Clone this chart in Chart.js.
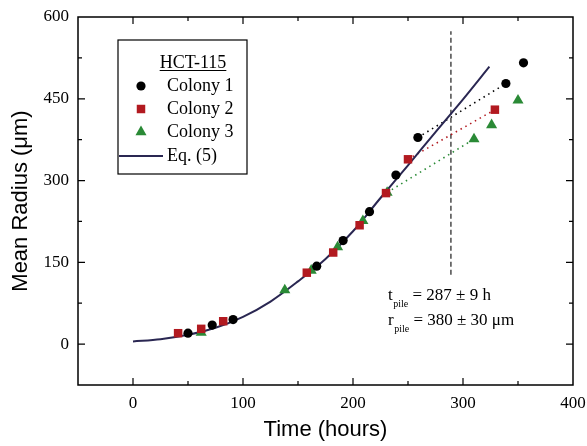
<!DOCTYPE html>
<html><head><meta charset="utf-8">
<script src="https://cdn.jsdelivr.net/npm/chart.js@4/dist/chart.umd.min.js"></script>
<style>html,body{margin:0;padding:0;background:#fff}</style>
</head><body>
<canvas id="c" width="587" height="446" style="display:block;width:587px;height:446px"></canvas>
<script>
// ---- data ----
const colony1X = [50, 72, 91, 167, 191, 215, 239, 259, 339, 355];
const colony1Y = [20, 35, 45, 143, 190, 243, 310, 379, 478, 516];
const colony2X = [41, 62, 82, 158, 182, 206, 230, 250, 329];
const colony2Y = [20, 28, 42, 131, 168, 218, 277, 339, 430];
const colony3X = [62, 138, 162, 186, 209, 231, 310, 326, 350];
const colony3Y = [21, 99, 135, 178, 226, 278, 376, 402, 447];
const eqX = [0, 25, 50, 75, 100, 125, 150, 175, 200, 225, 250, 275, 300, 324];
const eqY = [5, 9, 17, 30, 50, 78, 115, 156, 207, 268, 328, 389, 449, 509];
const pileTime = 289;           // vertical dashed line position (hours)
const pileLineY = [127, 574];   // dashed line extent
const xTickLabels = [0, 100, 200, 300, 400];
const yTickLabels = [0, 150, 300, 450, 600];
const legendTitle = "HCT-115";
const seriesNames = ["Colony 1", "Colony 2", "Colony 3", "Eq. (5)"];
const annotLines = [["t", "pile", " = 287 ± 9 h"], ["r", "pile", " = 380 ± 30 μm"]];

const pts = (xs, ys) => xs.map((x, i) => ({x, y: ys[i]}));
const seg = (xs, ys, a, b) => [{x: xs[a], y: ys[a]}, {x: xs[b], y: ys[b]}];

const BLACK = '#000000', RED = '#b21a20', GREEN = '#2a8a36', NAVY = '#2a2752';
const SERIF = "'Liberation Serif','Times New Roman',serif";
const SANS = "'Liberation Sans',Arial,sans-serif";

const datasets = [
  {label: seriesNames[0], data: pts(colony1X, colony1Y), showLine: false, pointStyle: 'circle', pointRadius: 4.6, backgroundColor: BLACK, borderColor: BLACK, borderWidth: 0},
  {label: seriesNames[1], data: pts(colony2X, colony2Y), showLine: false, pointStyle: 'rect', pointRadius: 6, backgroundColor: RED, borderColor: RED, borderWidth: 0},
  {label: seriesNames[2], data: pts(colony3X, colony3Y), showLine: false, pointStyle: 'triangle', pointRadius: 6.4, backgroundColor: GREEN, borderColor: GREEN, borderWidth: 0},
  {label: seriesNames[3], data: pts(eqX, eqY), showLine: true, pointRadius: 0, borderColor: NAVY, borderWidth: 2, tension: 0.4, cubicInterpolationMode: 'monotone', fill: false},
  {label: '_d1', data: seg(colony1X, colony1Y, 7, 8), showLine: true, pointRadius: 0, borderColor: BLACK, borderWidth: 1.6, borderDash: [1.5, 4]},
  {label: '_d2', data: seg(colony2X, colony2Y, 7, 8), showLine: true, pointRadius: 0, borderColor: RED, borderWidth: 1.6, borderDash: [1.5, 4]},
  {label: '_d3', data: seg(colony3X, colony3Y, 5, 6), showLine: true, pointRadius: 0, borderColor: GREEN, borderWidth: 1.6, borderDash: [1.5, 4]},
  {label: '_pile', data: [{x: pileTime, y: pileLineY[0]}, {x: pileTime, y: pileLineY[1]}], showLine: true, pointRadius: 0, borderColor: '#555555', borderWidth: 1.6, borderDash: [5, 3]}
];

const framePlugin = {
  id: 'frame',
  afterDraw(chart) {
    const ctx = chart.ctx, a = chart.chartArea;
    const xs = chart.scales.x, ys = chart.scales.y;
    ctx.save();
    ctx.strokeStyle = '#000'; ctx.lineWidth = 1.5;
    ctx.strokeRect(a.left, a.top, a.right - a.left, a.bottom - a.top);
    ctx.lineWidth = 1.2;
    ctx.beginPath();
    xs.ticks.forEach(t => {
      if (t.value <= xs.min || t.value >= xs.max) return;
      const p = xs.getPixelForValue(t.value);
      const L = xTickLabels.includes(t.value) ? 7 : 4;
      ctx.moveTo(p, a.bottom); ctx.lineTo(p, a.bottom - L);
      ctx.moveTo(p, a.top); ctx.lineTo(p, a.top + L);
    });
    ys.ticks.forEach(t => {
      if (t.value <= ys.min || t.value >= ys.max) return;
      const p = ys.getPixelForValue(t.value);
      const L = yTickLabels.includes(t.value) ? 7 : 4;
      ctx.moveTo(a.left, p); ctx.lineTo(a.left + L, p);
      ctx.moveTo(a.right, p); ctx.lineTo(a.right - L, p);
    });
    ctx.stroke();

    // legend box
    const bx = 118, by = 40, bw = 129, bh = 134;
    ctx.lineWidth = 1.2;
    ctx.strokeRect(bx, by, bw, bh);
    ctx.fillStyle = '#000';
    ctx.font = "18px " + SERIF;
    ctx.textBaseline = 'middle';
    ctx.textAlign = 'center';
    const tw = ctx.measureText(legendTitle).width;
    ctx.fillText(legendTitle, 193, 63);
    ctx.beginPath(); ctx.lineWidth = 1;
    ctx.moveTo(193 - tw / 2, 70.5); ctx.lineTo(193 + tw / 2, 70.5); ctx.stroke();
    const rows = [86, 109, 132, 156];
    for (let i = 0; i < 3; i++) {
      const d = chart.data.datasets[i];
      ctx.fillStyle = d.backgroundColor; ctx.strokeStyle = d.backgroundColor;
      Chart.helpers.drawPoint(ctx, {pointStyle: d.pointStyle, radius: d.pointRadius, borderWidth: 0, rotation: 0}, 141, rows[i]);
      ctx.fillStyle = '#000';
      ctx.font = "18px " + SERIF; ctx.textBaseline = 'middle'; ctx.textAlign = 'left';
      ctx.fillText(d.label, 167, rows[i]);
    }
    const eq = chart.data.datasets[3];
    ctx.strokeStyle = eq.borderColor; ctx.lineWidth = 2;
    ctx.beginPath(); ctx.moveTo(119, rows[3]); ctx.lineTo(163, rows[3]); ctx.stroke();
    ctx.fillStyle = '#000';
    ctx.fillText(eq.label, 167, rows[3]);

    // annotation
    ctx.textBaseline = 'alphabetic'; ctx.textAlign = 'left';
    const bases = [300, 325];
    annotLines.forEach((ln, i) => {
      let x = 388;
      ctx.font = "17px " + SERIF;
      ctx.fillText(ln[0], x, bases[i]);
      x += ctx.measureText(ln[0]).width + 0.5;
      ctx.font = "10px " + SERIF;
      ctx.fillText(ln[1], x, bases[i] + 7);
      x += ctx.measureText(ln[1]).width;
      ctx.font = "17px " + SERIF;
      ctx.fillText(ln[2], x, bases[i]);
    });
    ctx.restore();
  }
};

new Chart(document.getElementById('c'), {
  type: 'scatter',
  data: {datasets},
  plugins: [framePlugin],
  options: {
    responsive: false,
    animation: false,
    devicePixelRatio: 1,
    layout: {padding: {top: 17, right: 14, left: 0, bottom: 0}},
    plugins: {legend: {display: false}, tooltip: {enabled: false}},
    scales: {
      x: {
        type: 'linear', min: -50, max: 400,
        grid: {display: false, drawTicks: false},
        border: {display: false},
        ticks: {stepSize: 50, autoSkip: false, maxRotation: 0, padding: 8, color: '#000',
          font: {family: SERIF, size: 17},
          callback: v => xTickLabels.includes(v) ? String(v) : ''},
        title: {display: true, text: 'Time (hours)', color: '#000', font: {family: SANS, size: 22}, padding: {top: 0, bottom: 3}},
        afterFit: s => { s.height = 61; s.paddingLeft = 0; s.paddingRight = 0; }
      },
      y: {
        type: 'linear', min: -75, max: 600,
        grid: {display: false, drawTicks: false},
        border: {display: false},
        ticks: {stepSize: 75, autoSkip: false, padding: 9, color: '#000',
          font: {family: SERIF, size: 17},
          callback: v => yTickLabels.includes(v) ? String(v) : ''},
        title: {display: true, text: 'Mean Radius (μm)', color: '#000', font: {family: SANS, size: 22}, padding: {top: 8, bottom: 0}},
        afterFit: s => { s.width = 78; s.paddingTop = 0; s.paddingBottom = 0; }
      }
    }
  }
});
</script>
</body></html>
